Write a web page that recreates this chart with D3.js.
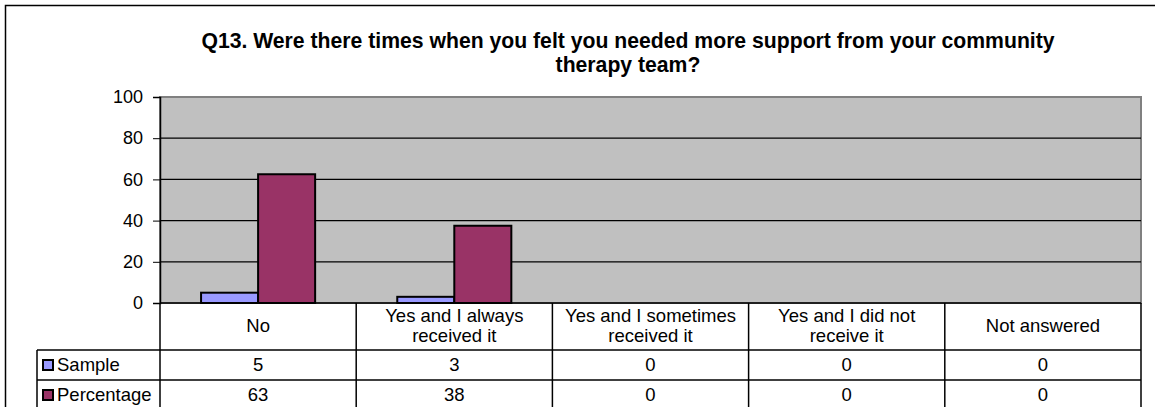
<!DOCTYPE html>
<html>
<head>
<meta charset="utf-8">
<script src="https://cdn.jsdelivr.net/npm/d3@7"></script>
<style>
  body { margin: 0; background: #fff; }
  svg { display: block; font-family: "Liberation Sans", Arial, sans-serif; }
</style>
</head>
<body>
<svg></svg>
<script>
// данные графика
const titleLines = ["Q13. Were there times when you felt you needed more support from your community", "therapy team?"];
const categories = ["No", "Yes and I always received it", "Yes and I sometimes received it", "Yes and I did not receive it", "Not answered"];
const categoryLines = [["No"], ["Yes and I always", "received it"], ["Yes and I sometimes", "received it"], ["Yes and I did not", "receive it"], ["Not answered"]];
const seriesNames = ["Sample", "Percentage"];
const sampleValues = [5, 3, 0, 0, 0];
const percentValues = [62.5, 37.5, 0, 0, 0];
const seriesColors = ["#9999FF", "#993366"];
const yTicks = [0, 20, 40, 60, 80, 100];

document.addEventListener("DOMContentLoaded", function() {
    const width = 1155;
    const height = 407;
    const svg = d3.select("svg")
        .attr("width", width)
        .attr("height", height);

    const plot = { left: 160, right: 1141, top: 97, bottom: 303 };
    const rows = [303, 350, 380, 410];
    const legendLeft = 37;
    const fontSize = "18.5px";

    // внешняя рамка (обрезана справа и снизу)
    svg.append("rect")
        .attr("x", 5.5).attr("y", 5.5)
        .attr("width", 1200).attr("height", 450)
        .attr("fill", "#fff")
        .attr("stroke", "#000")
        .attr("stroke-width", 1.5);

    // заголовок
    svg.append("g").selectAll("text")
        .data(titleLines)
        .join("text")
        .attr("x", 628)
        .attr("y", (d, i) => 48 + i * 24)
        .attr("text-anchor", "middle")
        .attr("font-weight", "bold")
        .attr("font-size", "21.2px")
        .attr("fill", "#000")
        .text(d => d);

    const x0 = d3.scaleBand()
        .domain(categories)
        .range([plot.left, plot.right]);

    const x1 = d3.scaleBand()
        .domain(seriesNames)
        .range([0, x0.bandwidth()])
        .paddingOuter(0.72);

    const y = d3.scaleLinear()
        .domain([0, 100])
        .range([plot.bottom, plot.top]);

    // фон области построения
    svg.append("rect")
        .attr("x", plot.left).attr("y", plot.top)
        .attr("width", plot.right - plot.left)
        .attr("height", plot.bottom - plot.top)
        .attr("fill", "#C0C0C0")
        .attr("stroke", "#808080")
        .attr("stroke-width", 2);

    // линии сетки
    svg.append("g").selectAll("line")
        .data(yTicks.filter(t => t > 0 && t < 100))
        .join("line")
        .attr("x1", plot.left).attr("x2", plot.right)
        .attr("y1", d => y(d)).attr("y2", d => y(d))
        .attr("stroke", "#000")
        .attr("stroke-width", 1.2);

    // ось Y
    const yAxis = svg.append("g")
        .attr("transform", `translate(${plot.left},0)`)
        .call(d3.axisLeft(y).tickValues(yTicks).tickSize(7).tickPadding(10));
    yAxis.select(".domain").attr("stroke", "#000").attr("stroke-width", 1.5);
    yAxis.selectAll(".tick line").attr("stroke", "#000");
    yAxis.selectAll(".tick text")
        .attr("font-size", "18px")
        .attr("font-family", "Liberation Sans, Arial, sans-serif")
        .attr("fill", "#000");

    // столбцы
    const series = [sampleValues, percentValues];
    const groups = svg.append("g").selectAll("g")
        .data(categories)
        .join("g")
        .attr("transform", d => `translate(${x0(d)},0)`);

    groups.selectAll("rect")
        .data((d, i) => seriesNames.map((s, k) => ({ s: s, v: series[k][i], c: seriesColors[k] })))
        .join("rect")
        .filter(d => d.v > 0)
        .attr("x", d => x1(d.s))
        .attr("y", d => y(d.v))
        .attr("width", x1.bandwidth())
        .attr("height", d => y(0) - y(d.v))
        .attr("fill", d => d.c)
        .attr("stroke", "#000")
        .attr("stroke-width", 2);

    // нулевая линия
    svg.append("line")
        .attr("x1", plot.left).attr("x2", plot.right)
        .attr("y1", y(0)).attr("y2", y(0))
        .attr("stroke", "#000").attr("stroke-width", 1.5);

    // таблица данных
    const table = svg.append("g").attr("stroke", "#000").attr("stroke-width", 1.5);
    rows.slice(1).forEach(r => {
        table.append("line")
            .attr("x1", legendLeft).attr("x2", plot.right)
            .attr("y1", r).attr("y2", r);
    });
    const edges = categories.map(c => x0(c)).concat([plot.right]);
    table.selectAll(".v")
        .data(edges)
        .join("line")
        .attr("x1", d => d).attr("x2", d => d)
        .attr("y1", plot.bottom).attr("y2", height + 5);
    table.append("line")
        .attr("x1", legendLeft).attr("x2", legendLeft)
        .attr("y1", rows[1]).attr("y2", height + 5);

    // подписи категорий
    const catText = svg.append("g").selectAll("text")
        .data(categoryLines)
        .join("text")
        .attr("text-anchor", "middle")
        .attr("font-size", fontSize)
        .attr("fill", "#000")
        .attr("transform", (d, i) => `translate(${x0(categories[i]) + x0.bandwidth() / 2},${d.length > 1 ? 322 : 332})`);
    catText.selectAll("tspan")
        .data(d => d)
        .join("tspan")
        .attr("x", 0)
        .attr("dy", (d, i) => i === 0 ? 0 : 20)
        .text(d => d);

    // значения в таблице
    const fmt = d3.format(".0f");
    series.forEach((vals, k) => {
        svg.append("g").selectAll("text")
            .data(vals)
            .join("text")
            .attr("x", (d, i) => x0(categories[i]) + x0.bandwidth() / 2)
            .attr("y", 371 + k * 30)
            .attr("text-anchor", "middle")
            .attr("font-size", fontSize)
            .attr("fill", "#000")
            .text(d => fmt(d));

        // легенда
        svg.append("rect")
            .attr("x", 43).attr("y", 360 + k * 30)
            .attr("width", 10).attr("height", 10)
            .attr("fill", seriesColors[k])
            .attr("stroke", "#000")
            .attr("stroke-width", 2);
        svg.append("text")
            .attr("x", 57).attr("y", 371 + k * 30)
            .attr("font-size", fontSize)
            .attr("fill", "#000")
            .text(seriesNames[k]);
    });
});
</script>
</body>
</html>
